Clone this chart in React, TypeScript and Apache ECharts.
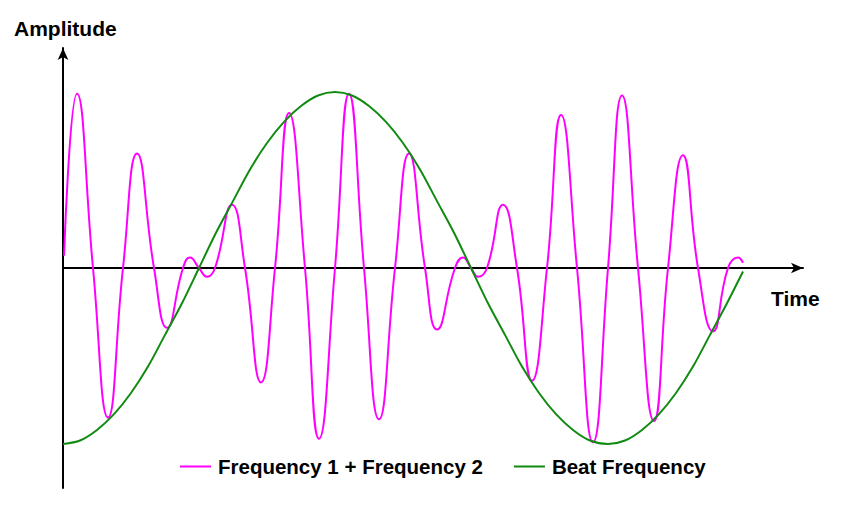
import React, { useEffect, useRef } from "react";
import * as echarts from "echarts";

// Time positions (in px-like units from the origin) and amplitudes
const sumTime = [
  1, 14, 30, 45, 60, 74, 91, 104, 120, 127, 136, 144, 152, 169, 182, 198, 212, 226, 242, 256,
  272, 286, 301, 316, 332, 346, 362, 374, 392, 400, 408, 415, 424, 440, 454, 469, 484, 498, 514, 530,
  545, 559, 575, 591, 605, 620, 635, 650, 665, 675, 680,
];
const sumAmp = [
  0.07, 0.99, 0, -0.85, 0, 0.65, 0, -0.34, 0, 0.06, 0, -0.05, 0, 0.36, 0, -0.65, 0, 0.88, 0, -0.97,
  0, 0.99, 0, -0.86, 0, 0.65, 0, -0.35, 0, 0.06, 0, -0.05, 0, 0.36, 0, -0.64, 0, 0.87, 0, -0.99,
  0, 0.98, 0, -0.87, 0, 0.64, 0, -0.36, 0, 0.06, 0.03,
];

const beatTime = [
  0, 17, 34, 51, 68, 85, 102, 119, 136, 153, 170, 187, 204, 221, 238, 255, 272, 289, 306, 323,
  340, 357, 374, 391, 408, 425, 442, 459, 476, 493, 510, 527, 545, 562, 579, 596, 613, 630, 647, 664, 680,
];
const beatAmp = [
  -1, -0.98, -0.92, -0.83, -0.71, -0.56, -0.38, -0.2, 0, 0.2, 0.38, 0.56, 0.71, 0.83, 0.92, 0.98, 1, 0.98, 0.92, 0.83,
  0.71, 0.56, 0.38, 0.2, 0, -0.2, -0.38, -0.56, -0.71, -0.83, -0.92, -0.98, -1, -0.98, -0.92, -0.83, -0.71, -0.56, -0.38, -0.2, -0.02,
];

const seriesNames = ["Frequency 1 + Frequency 2", "Beat Frequency"];
const axisNames = { y: "Amplitude", x: "Time" };

const FONT = '"Liberation Sans", Arial, Helvetica, sans-serif';

export default function App() {
  const ref = useRef<HTMLDivElement>(null);
  useEffect(() => {
    if (!ref.current) return;
    const chart = echarts.init(ref.current, null, { renderer: "svg" });
    const axisLineStyle = { color: "#000", width: 2 };
    chart.setOption({
      animation: false,
      backgroundColor: "#fff",
      grid: { left: 63, top: 48, width: 740, height: 440 },
      xAxis: {
        type: "value",
        min: 0,
        max: 740,
        axisLine: { show: true, onZero: true, symbol: ["none", "arrow"], symbolSize: [8, 12], lineStyle: axisLineStyle },
        axisTick: { show: false },
        axisLabel: { show: false },
        splitLine: { show: false },
      },
      yAxis: {
        type: "value",
        min: -1.25,
        max: 1.25,
        axisLine: { show: true, onZero: false, symbol: ["none", "arrow"], symbolSize: [8, 12], lineStyle: axisLineStyle },
        axisTick: { show: false },
        axisLabel: { show: false },
        splitLine: { show: false },
      },
      legend: {
        left: 180,
        top: 456,
        padding: 0,
        itemGap: 31,
        itemWidth: 31,
        itemHeight: 2,
        textStyle: { fontFamily: FONT, fontSize: 20.5, fontWeight: "bold", color: "#000", padding: [0, 0, 0, 2] },
        data: [
          { name: seriesNames[0], icon: "rect" },
          { name: seriesNames[1], icon: "rect" },
        ],
      },
      graphic: [
        {
          type: "text",
          x: 14,
          y: 28,
          style: { text: axisNames.y, fill: "#000", font: `bold 21px ${FONT}`, verticalAlign: "middle" },
        },
        {
          type: "text",
          x: 771,
          y: 298,
          style: { text: axisNames.x, fill: "#000", font: `bold 21px ${FONT}`, verticalAlign: "middle" },
        },
      ],
      series: [
        {
          name: seriesNames[0],
          type: "line",
          data: sumTime.map((t, i) => [t, sumAmp[i]]),
          smooth: 0.5,
          showSymbol: false,
          symbol: "none",
          color: "#ff00ff",
          lineStyle: { color: "#ff00ff", width: 2 },
        },
        {
          name: seriesNames[1],
          type: "line",
          data: beatTime.map((t, i) => [t, beatAmp[i]]),
          smooth: 0.3,
          showSymbol: false,
          symbol: "none",
          color: "#118a11",
          lineStyle: { color: "#118a11", width: 2 },
        },
      ],
    });
    return () => chart.dispose();
  }, []);
  return <div ref={ref} style={{ position: "fixed", left: 0, top: 0, width: 845, height: 527 }} />;
}
